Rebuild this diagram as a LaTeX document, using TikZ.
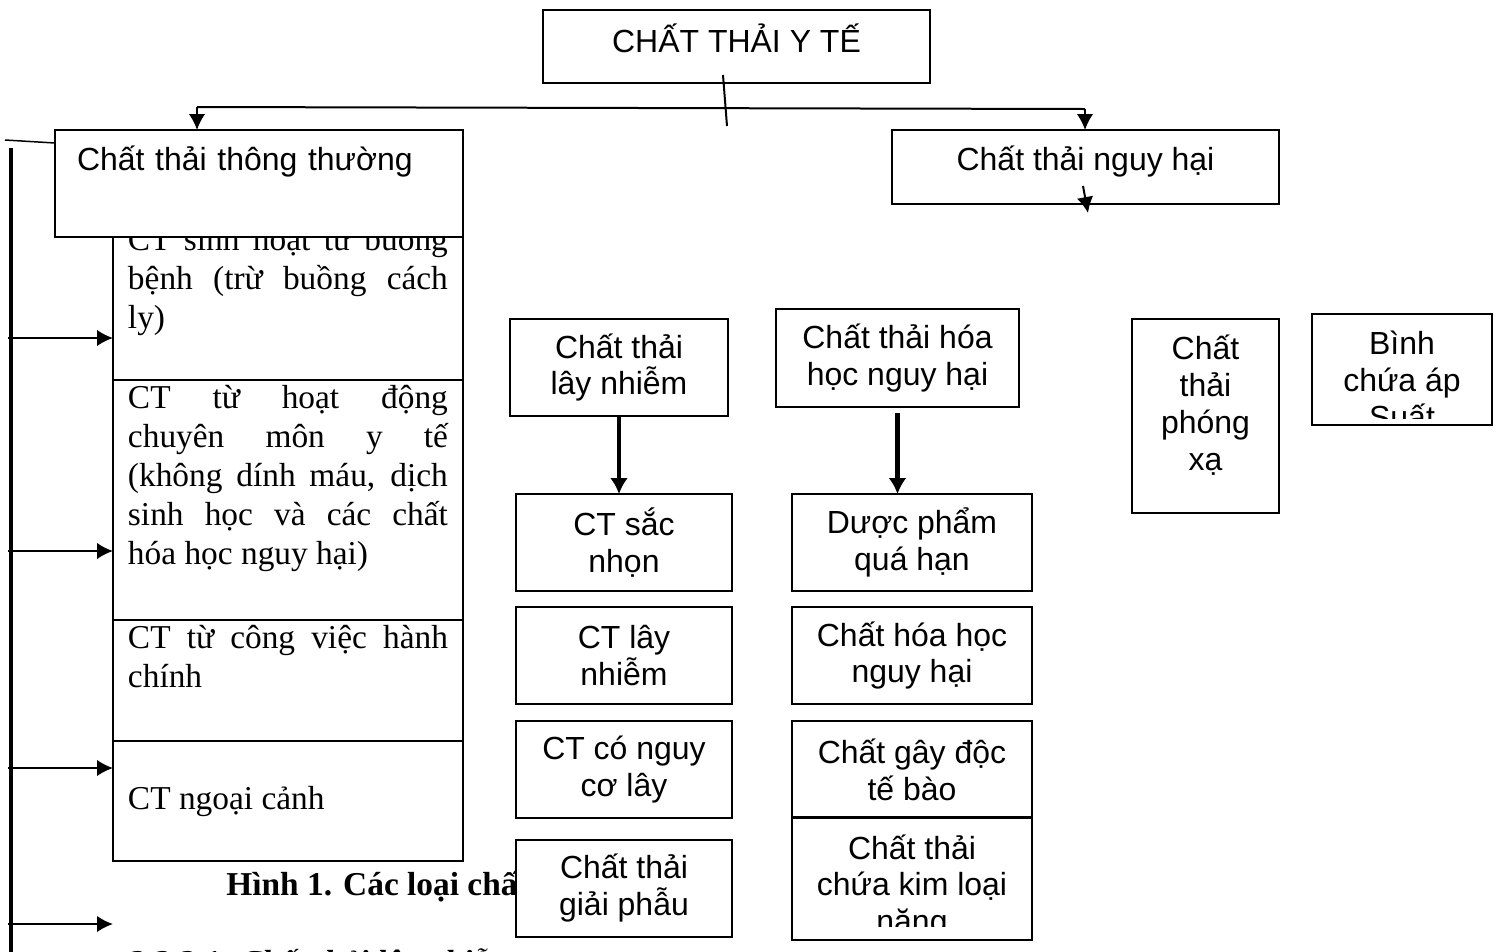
\documentclass[tikz,border=0pt]{standalone}
\usepackage{fontspec}
\setmainfont{Liberation Serif}
\setsansfont{Liberation Sans}
\usetikzlibrary{arrows.meta, positioning}

\newcommand{\jl}[1]{\makebox[6.4cm][s]{#1}}

\tikzset{
  box/.style={draw, fill=white, line width=0.04cm, inner sep=0pt, outer sep=0pt,
    align=center, font=\sffamily\fontsize{18.2}{21}\selectfont},
  boxtext/.style={inner sep=0pt, align=center, font=\sffamily\fontsize{18.2}{21}\selectfont},
  colbox/.style={draw, fill=white, line width=0.04cm, inner xsep=0.3cm, inner ysep=0pt,
    outer sep=0pt, anchor=north west, font=\rmfamily\fontsize{19}{22.2}\selectfont},
  link/.style={draw, line width=0.04cm, -{Latex[length=0.32cm, width=0.33cm]}},
  boldlink/.style={draw, line width=0.09cm, -{Latex[length=0.32cm, width=0.36cm]}},
  plain/.style={draw, line width=0.04cm},
}

\begin{document}
\begin{tikzpicture}[x=0.02cm, y=-0.02cm]

\path [use as bounding box, clip] (0,0) rectangle (1505,951);

% top level
\node [box, minimum width=7.74cm, text height=0.84cm, text depth=0.62cm] (yte) at (736.5,46.5) {CHẤT THẢI Y TẾ};

\coordinate (tick top)   at (723,75);
\coordinate (tick bot)   at (727,126);
\coordinate (fork left)  at (197,107);
\coordinate (fork right) at (1085,109);

% left column
\node [colbox, text height=0.64cm, text depth=2.6cm] (sinhhoat) at (113,218) {\parbox[t]{6.4cm}{
  \jl{CT sinh hoạt từ buồng}\\
  \jl{bệnh (trừ buồng cách}\\
  ly)}};
\node [colbox, text height=0.57cm, text depth=4.23cm, below=0cm of sinhhoat] (chuyenmon) {\parbox[t]{6.4cm}{
  \jl{CT từ hoạt động}\\
  \jl{chuyên môn y tế}\\
  \jl{(không dính máu, dịch}\\
  \jl{sinh học và các chất}\\
  hóa học nguy hại)}};
\node [colbox, text height=0.57cm, text depth=1.85cm, below=0cm of chuyenmon] (hanhchinh) {\parbox[t]{6.4cm}{
  \jl{CT từ công việc hành}\\
  chính}};
\node [colbox, text height=1.37cm, text depth=1.03cm, below=0cm of hanhchinh] (ngoaicanh) {\parbox[t]{6.4cm}{
  CT ngoại cảnh}};

% next level
\node [box, minimum width=8.16cm, text width=7.28cm, align=left, text height=0.8cm, text depth=1.34cm] (thuong) at (259,183.5) {Chất thải thông thường};
\node [box, minimum width=7.74cm, text height=0.8cm, text depth=0.68cm] (nguyhai) at (1085.5,167) {Chất thải nguy hại};

\path [plain] (tick top) -- (tick bot);
\path [plain] (fork left) -- (fork right);
\path (fork left) edge [link] (fork left |- thuong.north);
\path (fork right) edge [link] (fork right |- nguyhai.north);

\coordinate (nh top) at (1083,186);
\coordinate (nh tip) at (1088,213);
\path (nh top) edge [link] (nh tip);

% spine on the left
\coordinate (spine top) at (11,148);
\coordinate (spine end) at (11,960);
\coordinate (stub)      at (5,140);
\coordinate (stub end)  at (55,143);
\path [draw, line width=0.07cm] (spine top) -- (spine end);
\path [draw, line width=0.03cm] (stub) -- (stub end);
\foreach \y/\n in {338/1, 551/2, 768/3, 924/4} {
  \coordinate (spoke\n) at (8,\y);
  \path (spoke\n) edge [link] (spoke\n -| sinhhoat.west);
}

% caption and next heading
\node [anchor=base west, inner sep=0pt, font=\rmfamily\bfseries\fontsize{19}{22}\selectfont] (caption) at (226,895) {Hình 1. Các loại chất thải y tế};
\node [anchor=base west, inner sep=0pt, font=\rmfamily\bfseries\itshape\fontsize{19}{22}\selectfont] (nextsec) at (128,973) {2.2.2.1. Chất thải lây nhiễm};

% infectious waste
\node [box, minimum width=4.36cm, minimum height=1.94cm] (laynhiem) at (619,367.5) {Chất thải\\lây nhiễm};
\node [box, minimum width=4.32cm, minimum height=1.94cm] (sacnhon) at (624,542.5) {CT sắc\\nhọn};
\node [box, minimum width=4.32cm, minimum height=1.94cm, below=0.32cm of sacnhon] (ctlaynhiem) {CT lây\\nhiễm};
\node [box, minimum width=4.32cm, minimum height=1.94cm, below=0.34cm of ctlaynhiem] (nguyco) {CT có nguy\\cơ lây};
\node [box, minimum width=4.32cm, minimum height=1.94cm, below=0.44cm of nguyco] (giaiphau) {Chất thải\\giải phẫu};

\path (laynhiem.south) edge [boldlink] (laynhiem.south |- sacnhon.north);

% chemical waste
\node [box, minimum width=4.86cm, minimum height=1.96cm] (hoahoc) at (897.5,358) {Chất thải hóa\\học nguy hại};
\node [box, minimum width=4.8cm, minimum height=1.94cm] (duocpham) at (912,542.5) {Dược phẩm\\quá hạn};
\node [box, minimum width=4.8cm, minimum height=1.94cm, below=0.32cm of duocpham] (chathoahoc) {Chất hóa học\\nguy hại};
\node [box, minimum width=4.8cm, minimum height=1.94cm, below=0.34cm of chathoahoc] (docte) {Chất gây độc\\tế bào};
\node [box, minimum width=4.8cm, minimum height=2.44cm, below=0cm of docte] (kimloai) {};
\path [draw, line width=0.06cm] (kimloai.north west) -- (kimloai.north east);
\begin{scope}
  \clip (792,818) rectangle (1032,926);
  \node [boxtext] (kimloaitext) at (912,887) {Chất thải\\chứa kim loại\\nặng};
\end{scope}

\path (hoahoc.south) edge [boldlink, shorten <=0.12cm] (hoahoc.south |- duocpham.north);

% radioactive waste and pressure vessels
\node [box, minimum width=2.94cm, minimum height=3.88cm, text depth=0.54cm] (phongxa) at (1205.5,416) {Chất\\thải\\phóng\\xạ};
\node [box, minimum width=3.6cm, minimum height=2.22cm] (binh) at (1402,369.5) {};
\begin{scope}
  \clip (1312,314) rectangle (1492,418);
  \node [boxtext] (binhtext) at (1402,380) {Bình\\chứa áp\\Suất};
\end{scope}

\end{tikzpicture}
\end{document}
